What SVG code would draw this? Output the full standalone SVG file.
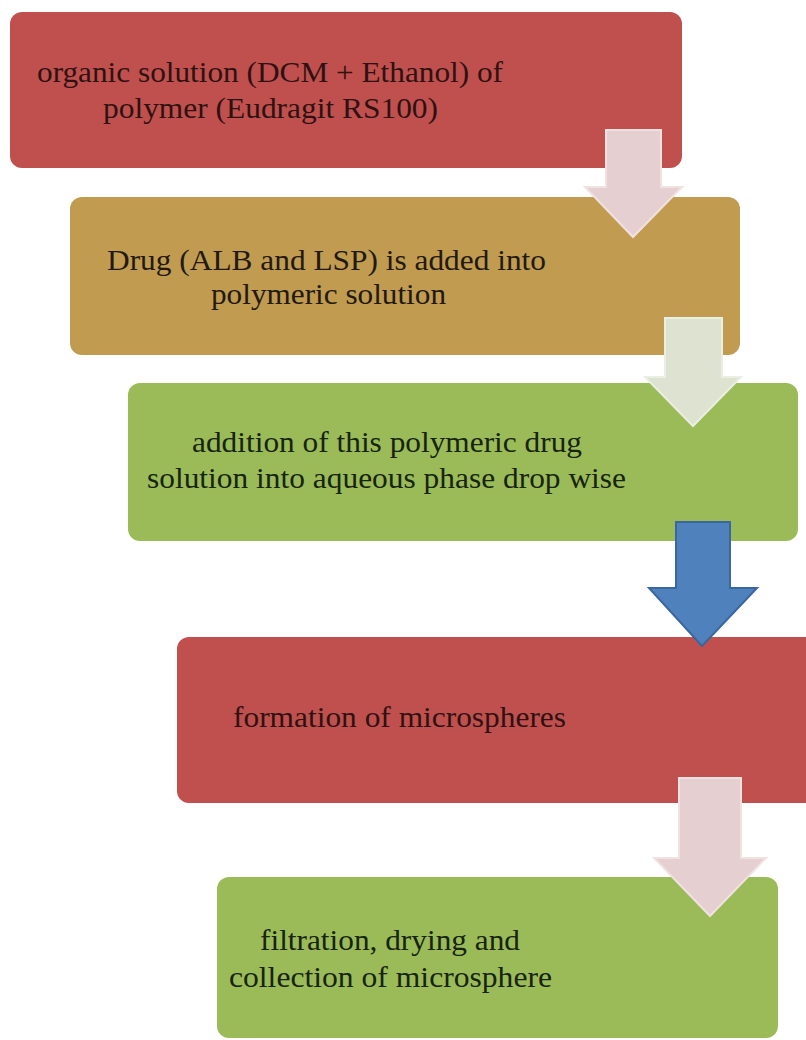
<svg xmlns="http://www.w3.org/2000/svg" width="806" height="1040" viewBox="0 0 806 1040">
<style>
.box{stroke:none}
.red{fill:#c0504d}
.tan{fill:#c19b50}
.grn{fill:#9bbb59}
.pink{fill:#e6cfd1;stroke:#f1e2e2;stroke-width:2}
.pale{fill:#dde3d0;stroke:#ebefe3;stroke-width:2}
.blue{fill:#4f81bd;stroke:#3a679e;stroke-width:2}
</style>
<rect width="806" height="1040" fill="#ffffff"/>
<g font-family="Liberation Serif, Times New Roman, serif" font-size="30">
<g id="n1">
<rect class="box red" x="10" y="12" width="672" height="156" rx="12"/>
<text fill="#2e1212" x="37" y="82" textLength="466" lengthAdjust="spacingAndGlyphs">organic solution (DCM + Ethanol) of</text>
<text fill="#2e1212" x="103" y="118" textLength="335" lengthAdjust="spacingAndGlyphs">polymer (Eudragit RS100)</text>
</g>
<g id="n2">
<rect class="box tan" x="70" y="197" width="670" height="158" rx="12"/>
<text fill="#221a10" x="107" y="270" textLength="439" lengthAdjust="spacingAndGlyphs">Drug (ALB and LSP) is added into</text>
<text fill="#221a10" x="211" y="304" textLength="235" lengthAdjust="spacingAndGlyphs">polymeric solution</text>
</g>
<g id="n3">
<rect class="box grn" x="128" y="383" width="670" height="158" rx="12"/>
<text fill="#172410" x="192" y="452" textLength="390" lengthAdjust="spacingAndGlyphs">addition of this polymeric drug</text>
<text fill="#172410" x="147" y="488" textLength="479" lengthAdjust="spacingAndGlyphs">solution into aqueous phase drop wise</text>
</g>
<g id="n4">
<rect class="box red" x="177" y="637" width="650" height="166" rx="12"/>
<text fill="#2e1212" x="233" y="727" textLength="333" lengthAdjust="spacingAndGlyphs">formation of microspheres</text>
</g>
<g id="n5">
<rect class="box grn" x="217" y="877" width="561" height="161" rx="12"/>
<text fill="#172410" x="260" y="950" textLength="260" lengthAdjust="spacingAndGlyphs">filtration, drying and</text>
<text fill="#172410" x="229" y="987" textLength="323" lengthAdjust="spacingAndGlyphs">collection of microsphere</text>
</g>
</g>
<g id="connectors">
<polygon class="pink" points="606,130 661,130 661,187 682,187 633,237 585,187 606,187"/>
<polygon class="pale" points="665,318 722,318 722,377 741,377 693,426 645,377 665,377"/>
<polygon class="blue" points="676,522 730,522 730,588 757,588 702,646 649,588 676,588"/>
<polygon class="pink" points="679,778 741,778 741,858 766,858 710,916 654,858 679,858"/>
</g>
</svg>
